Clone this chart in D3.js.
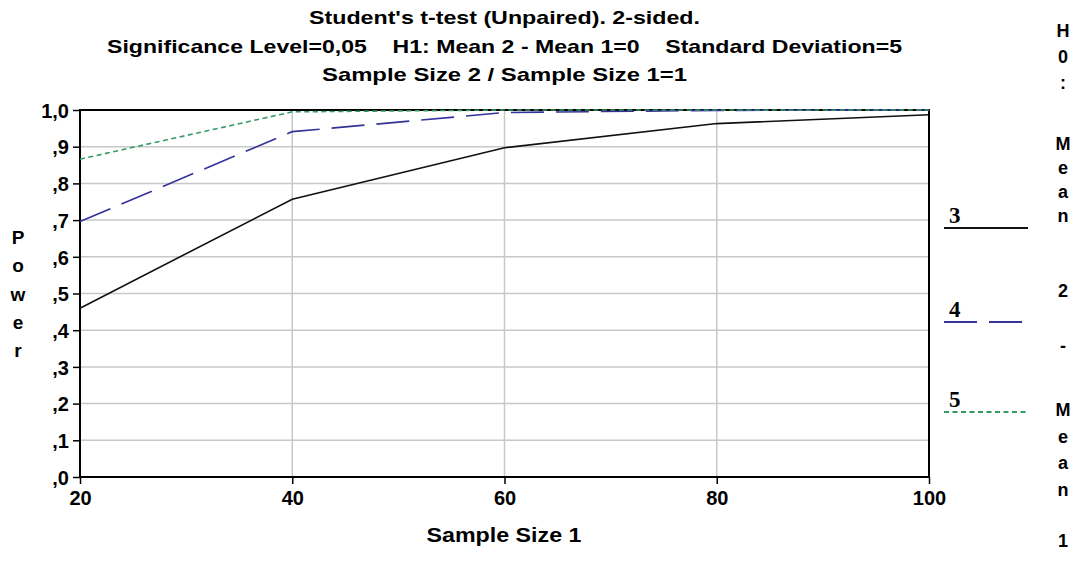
<!DOCTYPE html>
<html><head><meta charset="utf-8">
<script src="https://cdn.jsdelivr.net/npm/d3@7"></script>
<style>body{margin:0;background:#fff}svg{display:block}text{font-family:"Liberation Sans",Arial,sans-serif;font-weight:bold;fill:#000;white-space:pre}</style>
</head><body>
<svg id="c" width="1076" height="567"></svg>
<script>
const sampleSizes = [20, 40, 60, 80, 100];
const seriesNames = ["3", "4", "5"];
const power3 = [0.46, 0.757, 0.897, 0.963, 0.987];
const power4 = [0.696, 0.941, 0.993, 0.999, 1.0];
const power5 = [0.866, 0.995, 1.0, 1.0, 1.0];
const yTicks = [0, 0.1, 0.2, 0.3, 0.4, 0.5, 0.6, 0.7, 0.8, 0.9, 1.0];
const yTickLabels = [",0", ",1", ",2", ",3", ",4", ",5", ",6", ",7", ",8", ",9", "1,0"];
const xTicks = [20, 40, 60, 80, 100];
const titleLines = ["Student's t-test (Unpaired). 2-sided.",
  "Significance Level=0,05    H1: Mean 2 - Mean 1=0    Standard Deviation=5",
  "Sample Size 2 / Sample Size 1=1"];
const yTitle = "Power";
const xTitle = "Sample Size 1";
const legendTitleChars = ["H","0",":","M","e","a","n","2","-","M","e","a","n","1"];

const svg = d3.select("#c");
const L = 80, R = 929, T = 110, B = 477;
const x = d3.scaleLinear().domain([20, 100]).range([L, R]);
const y = d3.scaleLinear().domain([0, 1]).range([B, T]);

// grid
svg.append("g").selectAll("line").data(yTicks.slice(1, -1)).join("line")
  .attr("x1", L).attr("x2", R).attr("y1", d => y(d)).attr("y2", d => y(d))
  .attr("stroke", "#c8c8c8").attr("stroke-width", 1.5);
svg.append("g").selectAll("line").data(xTicks.slice(1, -1)).join("line")
  .attr("y1", T).attr("y2", B).attr("x1", d => x(d)).attr("x2", d => x(d))
  .attr("stroke", "#c8c8c8").attr("stroke-width", 1.5);

// frame
svg.append("rect").attr("x", L).attr("y", T).attr("width", R - L).attr("height", B - T)
  .attr("fill", "none").attr("stroke", "#000").attr("stroke-width", 2);

// axes
const yAxis = svg.append("g").attr("transform", `translate(${L},0)`)
  .call(d3.axisLeft(y).tickValues(yTicks).tickSize(7).tickPadding(4)
    .tickFormat((d, i) => yTickLabels[i]));
const xAxis = svg.append("g").attr("transform", `translate(0,${B})`)
  .call(d3.axisBottom(x).tickValues(xTicks).tickSize(7).tickPadding(7));
[yAxis, xAxis].forEach(a => {
  a.select(".domain").remove();
  a.selectAll(".tick line").attr("stroke", "#000").attr("stroke-width", 1.5);
  a.selectAll(".tick text").attr("font-size", 20).attr("font-family", "Liberation Sans, Arial, sans-serif")
    .attr("font-weight", "bold").attr("fill", "#000");
});
yAxis.selectAll(".tick text").attr("dy", "0.36em");

// lines
const styles = [
  {vals: power3, color: "#111", dash: null, w: 1.6},
  {vals: power4, color: "#333399", dash: "33,12", w: 1.6},
  {vals: power5, color: "#339966", dash: "5,3.5", w: 1.6}
];
const line = d3.line().x(d => x(d[0])).y(d => y(d[1]));
styles.forEach(s => {
  svg.append("path").datum(sampleSizes.map((n, i) => [n, s.vals[i]]))
    .attr("d", line).attr("fill", "none").attr("stroke", s.color)
    .attr("stroke-width", s.w).attr("stroke-dasharray", s.dash);
});

// titles
const titleY = [24, 53, 81], titleW = [391, 795, 365];
titleLines.forEach((t, i) => {
  svg.append("text").attr("x", (L + R) / 2).attr("y", titleY[i]).attr("text-anchor", "middle")
    .attr("xml:space", "preserve")
    .attr("font-size", 19).attr("textLength", titleW[i]).attr("lengthAdjust", "spacingAndGlyphs").text(t);
});
svg.append("text").attr("x", 504).attr("y", 542).attr("text-anchor", "middle")
  .attr("font-size", 21).attr("textLength", 155).attr("lengthAdjust", "spacingAndGlyphs").text(xTitle);

// y title stacked
const yTitleY = [237, 265, 294, 322, 350];
yTitle.split("").forEach((c, i) => {
  svg.append("text").attr("x", 18).attr("y", yTitleY[i] + 7).attr("text-anchor", "middle")
    .attr("font-size", 19).text(c);
});

// legend
const legY = [228, 322, 412];
styles.forEach((s, i) => {
  svg.append("line").attr("x1", 944).attr("x2", 1028).attr("y1", legY[i]).attr("y2", legY[i])
    .attr("stroke", s.color).attr("stroke-width", 1.8).attr("stroke-dasharray", s.dash);
  svg.append("text").attr("x", 949).attr("y", legY[i] - 5).attr("font-size", 23)
    .style("font-family", "Liberation Serif, Times New Roman, serif").text(seriesNames[i]);
});
const legTitleY = [30, 56, 82, 143, 167, 191, 215, 290, 345, 409, 436, 462, 489, 540];
legendTitleChars.forEach((c, i) => {
  svg.append("text").attr("x", 1063).attr("y", legTitleY[i] + 7).attr("text-anchor", "middle")
    .attr("font-size", 18).text(c);
});
</script>
</body></html>
